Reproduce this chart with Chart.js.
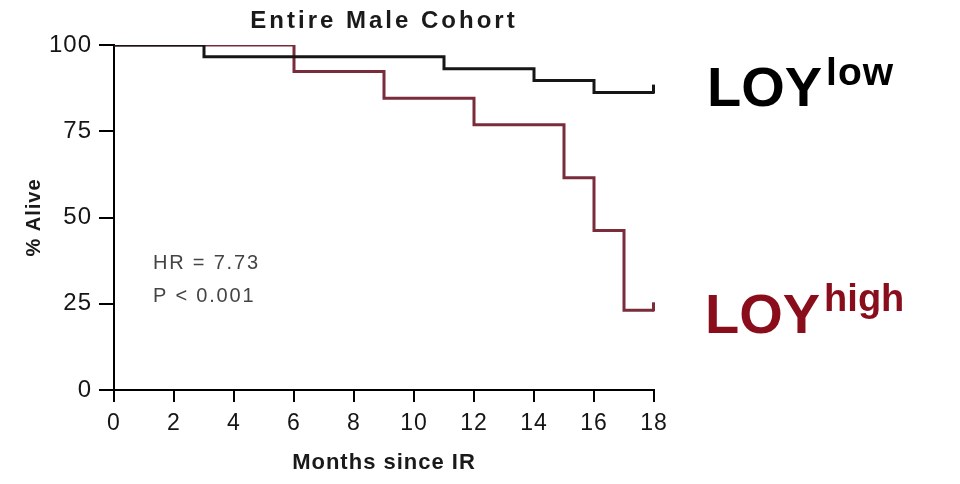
<!DOCTYPE html>
<html>
<head>
<meta charset="utf-8">
<script src="https://cdn.jsdelivr.net/npm/chart.js@4/dist/chart.umd.min.js"></script>
<style>
  html, body { margin: 0; padding: 0; background: #fff; }
  #wrap { width: 960px; height: 484px; }
</style>
</head>
<body>
<div id="wrap"><canvas id="km" width="960" height="484"></canvas></div>
<script>
// survival data (months, % alive)
const lowMonths = [0, 3, 11, 14, 16, 18];
const lowAlive = [100, 96.6, 93.1, 89.7, 86.2, 86.2];
const highMonths = [0, 6, 9, 12, 15, 16, 17, 18];
const highAlive = [100, 92.3, 84.6, 76.9, 61.5, 46.2, 23.1, 23.1];

const chartTitle = 'Entire Male Cohort';
const xTitle = 'Months since IR';
const yTitle = '% Alive';
const statLines = ['HR = 7.73', 'P < 0.001'];

const FONT = '"Liberation Sans", Arial, sans-serif';
const BLACK = '#161616';
const RED = '#7a2c3b';
const RED_TEXT = '#8a0d1c';

function toPoints(xs, ys) {
    return xs.map((x, i) => ({ x: x, y: ys[i] }));
}

// small upward censor tick at the end of each curve
const censorTicks = {
    id: 'censorTicks',
    afterDatasetsDraw(chart) {
        const { ctx } = chart;
        ctx.save();
        ctx.lineWidth = 3;
        chart.data.datasets.forEach((ds, i) => {
            const pts = chart.getDatasetMeta(i).data;
            const last = pts[pts.length - 1];
            ctx.strokeStyle = ds.borderColor;
            ctx.beginPath();
            ctx.moveTo(last.x - 0.5, last.y + 1);
            ctx.lineTo(last.x - 0.5, last.y - 8);
            ctx.stroke();
        });
        ctx.restore();
    }
};

// text that sits outside the plot: title, HR block and the LOY labels
const annotations = {
    id: 'annotations',
    beforeDraw(chart) {
        chart.ctx.letterSpacing = '1px';
    },
    afterDraw(chart) {
        const { ctx, chartArea, scales } = chart;
        ctx.save();

        ctx.fillStyle = '#1a1a1a';
        ctx.font = 'bold 24px ' + FONT;
        ctx.letterSpacing = '3px';
        ctx.textAlign = 'center';
        ctx.textBaseline = 'middle';
        ctx.fillText(chartTitle, (chartArea.left + chartArea.right) / 2, 21);

        ctx.fillStyle = '#444';
        ctx.font = '20px ' + FONT;
        ctx.letterSpacing = '1.8px';
        ctx.textAlign = 'left';
        const sx = scales.x.getPixelForValue(1.3);
        ctx.fillText(statLines[0], sx, scales.y.getPixelForValue(36.8));
        ctx.fillText(statLines[1], sx, scales.y.getPixelForValue(27));

        const lx = chartArea.right + 53;
        ctx.letterSpacing = '0px';
        ctx.textBaseline = 'alphabetic';

        ctx.fillStyle = '#000';
        ctx.font = 'bold 56px ' + FONT;
        ctx.fillText('LOY', lx, 106);
        let w = ctx.measureText('LOY').width;
        ctx.font = 'bold 39px ' + FONT;
        ctx.letterSpacing = '1px';
        ctx.fillText('low', lx + w + 4, 85);

        ctx.letterSpacing = '0px';
        ctx.fillStyle = RED_TEXT;
        ctx.font = 'bold 56px ' + FONT;
        ctx.fillText('LOY', lx - 2, 333);
        w = ctx.measureText('LOY').width;
        ctx.font = 'bold 38px ' + FONT;
        ctx.fillText('high', lx - 2 + w + 4, 311);

        ctx.restore();
    }
};

const ctx = document.getElementById('km').getContext('2d');
new Chart(ctx, {
    type: 'line',
    data: {
        datasets: [
            {
                label: 'LOY low',
                data: toPoints(lowMonths, lowAlive),
                borderColor: BLACK,
                borderWidth: 3,
                stepped: 'before',
                fill: false,
                pointRadius: 0
            },
            {
                label: 'LOY high',
                data: toPoints(highMonths, highAlive),
                borderColor: RED,
                borderWidth: 3,
                stepped: 'before',
                fill: false,
                pointRadius: 0
            }
        ]
    },
    options: {
        responsive: false,
        animation: false,
        layout: { padding: { left: 0, top: 45, right: 306, bottom: 0 } },
        plugins: {
            legend: { display: false },
            tooltip: { enabled: false },
            title: { display: false }
        },
        scales: {
            x: {
                type: 'linear',
                min: 0,
                max: 18,
                afterFit(scale) { scale.height = 94; },
                border: { display: true, color: '#000', width: 2 },
                grid: { drawOnChartArea: false, drawTicks: true, tickLength: 12, color: '#000', lineWidth: 2 },
                ticks: { stepSize: 2, padding: 8, color: '#151515', font: { family: FONT, size: 23 } },
                title: {
                    display: true,
                    text: xTitle,
                    color: '#1a1a1a',
                    font: { family: FONT, size: 22, weight: 'bold' },
                    padding: { top: 0, bottom: 8 }
                }
            },
            y: {
                min: 0,
                max: 100,
                afterFit(scale) { scale.width = 114; },
                border: { display: true, color: '#000', width: 2 },
                grid: { drawOnChartArea: false, drawTicks: true, tickLength: 15, color: '#000', lineWidth: 2 },
                ticks: { stepSize: 25, padding: 7, color: '#151515', font: { family: FONT, size: 24 } },
                title: {
                    display: true,
                    text: yTitle,
                    color: '#1a1a1a',
                    font: { family: FONT, size: 20, weight: 'bold' },
                    padding: { top: 22, bottom: 0 }
                }
            }
        }
    },
    plugins: [censorTicks, annotations]
});
</script>
</body>
</html>
